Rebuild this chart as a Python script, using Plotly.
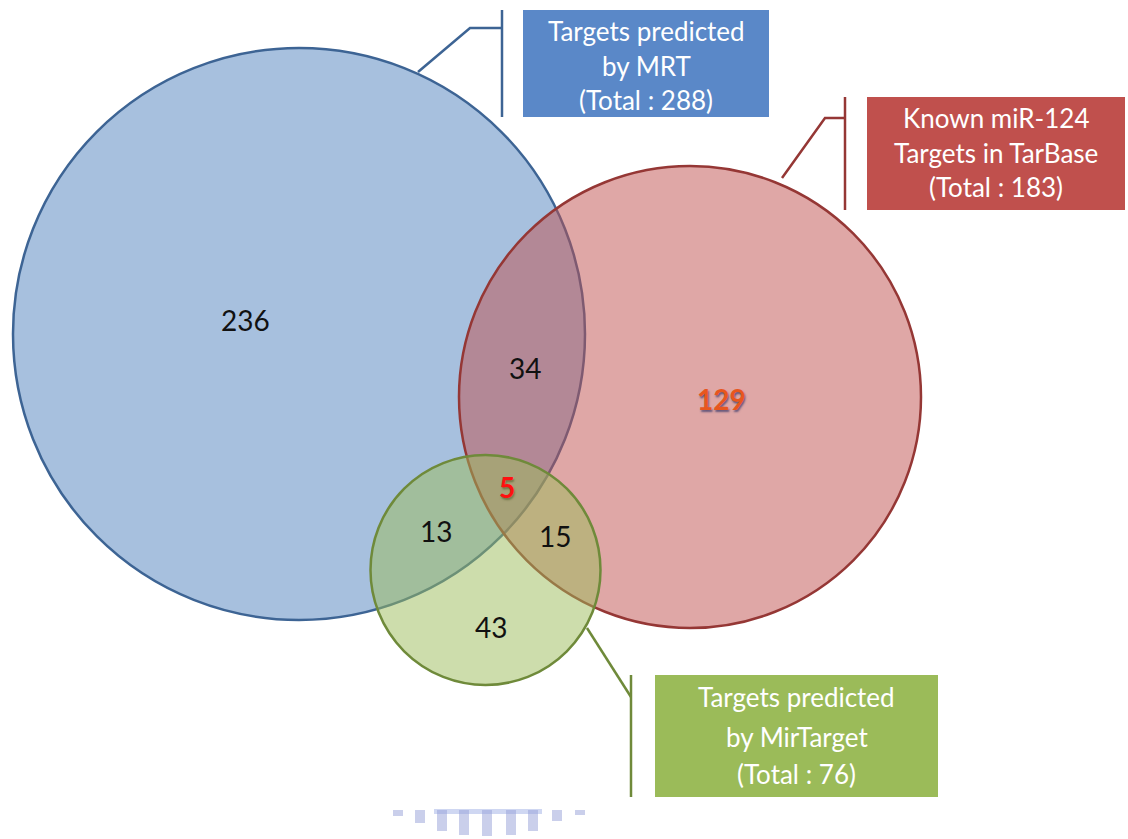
import plotly.graph_objects as go

# ---- data -------------------------------------------------------------
set_names = ["MRT", "TarBase", "MirTarget"]
set_titles = [
    ["Targets predicted", "by MRT"],
    ["Known miR-124", "Targets in TarBase"],
    ["Targets predicted", "by MirTarget"],
]
set_totals = [288, 183, 76]

# region counts of the three-set Venn diagram
region_keys = ["MRT only", "MRT+TarBase", "TarBase only", "all three",
               "MRT+MirTarget", "TarBase+MirTarget", "MirTarget only"]
region_counts = [236, 34, 129, 5, 13, 15, 43]

# ---- layout (pixel space, y grows downward) ----------------------------
W, H = 1128, 839
circles = {  # centre x, centre y, radius
    "MRT": (299, 334, 286),
    "TarBase": (690, 397, 231),
    "MirTarget": (485.5, 570, 115),
}
base = {"MRT": (79, 129, 189), "TarBase": (192, 80, 77), "MirTarget": (155, 187, 89)}
edge = {"MRT": "#3d6494", "TarBase": "#953735", "MirTarget": "#6f8a3a"}

label_pos = {
    "MRT only": (245, 320), "MRT+TarBase": (525, 368), "TarBase only": (721, 399),
    "all three": (507, 487), "MRT+MirTarget": (436, 531),
    "TarBase+MirTarget": (555, 536), "MirTarget only": (491, 627),
}
label_style = {
    "TarBase only": dict(color="#e8561e", weight="bold",
                         shadow="1px 2px 2px rgba(60,60,110,0.75)"),
    "all three": dict(color="#ff1010", weight="bold",
                      shadow="1px 2px 2px rgba(80,90,40,0.6)"),
}

boxes = {  # x0, y0, x1, y1, line centres
    "MRT": ((523, 10, 769, 117), (31, 66, 100)),
    "TarBase": ((867, 97, 1125, 210), (118, 153, 187)),
    "MirTarget": ((655, 675, 938, 797), (697, 737, 774)),
}
box_fill = {"MRT": "#5a88c8", "TarBase": "#c0504d", "MirTarget": "#9bbb59"}
callouts = {  # leader path, bracket x, bracket y-span
    "MRT": ([(418, 72), (470, 28), (502, 28)], 502, (10, 117)),
    "TarBase": ([(782, 178), (825, 118), (845, 118)], 845, (97, 210)),
    "MirTarget": ([(587, 628), (631, 697)], 631, (675, 797)),
}

FONT = "Lato, 'Open Sans', sans-serif"

fig = go.Figure()
shapes, annotations = [], []

# circles: semi-transparent fills drawn in order so overlaps blend
for name in set_names:
    cx, cy, r = circles[name]
    rr, gg, bb = base[name]
    shapes.append(dict(type="circle", xref="x", yref="y",
                       x0=cx - r, x1=cx + r, y0=cy - r, y1=cy + r,
                       fillcolor=f"rgba({rr},{gg},{bb},0.5)",
                       line=dict(color=edge[name], width=2.5)))

# callout leaders, brackets and title boxes
for name, title, total in zip(set_names, set_titles, set_totals):
    pts, bx, (by0, by1) = callouts[name]
    path = "M " + " L ".join(f"{x},{y}" for x, y in pts)
    shapes.append(dict(type="path", xref="x", yref="y", path=path,
                       line=dict(color=edge[name], width=2.5)))
    shapes.append(dict(type="line", xref="x", yref="y",
                       x0=bx, x1=bx, y0=by0, y1=by1,
                       line=dict(color=edge[name], width=2.5)))
    (x0, y0, x1, y1), ys = boxes[name]
    shapes.append(dict(type="rect", xref="x", yref="y", x0=x0, x1=x1, y0=y0, y1=y1,
                       fillcolor=box_fill[name], line=dict(width=0)))
    lines = title + [f"(Total : {total})"]
    for txt, yy in zip(lines, ys):
        annotations.append(dict(x=(x0 + x1) / 2, y=yy, xref="x", yref="y",
                                text=txt, showarrow=False,
                                xanchor="center", yanchor="middle",
                                font=dict(family=FONT, size=26, color="white")))

# region counts
for key, count in zip(region_keys, region_counts):
    x, y = label_pos[key]
    st = label_style.get(key, {})
    font = dict(family=FONT, size=28, color=st.get("color", "#111111"),
                weight=st.get("weight", "normal"))
    if "shadow" in st:
        font["shadow"] = st["shadow"]
    annotations.append(dict(x=x, y=y, xref="x", yref="y", text=str(count),
                            showarrow=False, xanchor="center", yanchor="middle",
                            font=font))

# faint watermark strip at the bottom edge
shapes.append(dict(type="rect", xref="x", yref="y", x0=434, x1=542, y0=809, y1=814,
                   fillcolor="rgba(160,175,230,0.5)", line=dict(width=0)))
teeth_x = [398, 420, 442, 464, 487, 511, 533, 557, 580]
teeth_bottom = [816, 823, 831, 835, 836, 835, 831, 821, 815]
for tx, tb in zip(teeth_x, teeth_bottom):
    shapes.append(dict(type="rect", xref="x", yref="y", x0=tx - 5, x1=tx + 5,
                       y0=810, y1=tb, fillcolor="rgba(150,160,215,0.5)",
                       line=dict(width=0)))

fig.update_layout(
    width=W, height=H,
    margin=dict(l=0, r=0, t=0, b=0),
    paper_bgcolor="white", plot_bgcolor="white",
    xaxis=dict(range=[0, W], visible=False, fixedrange=True),
    yaxis=dict(range=[H, 0], visible=False, fixedrange=True),
    shapes=shapes, annotations=annotations,
    showlegend=False,
)

fig.write_html("out.html")
